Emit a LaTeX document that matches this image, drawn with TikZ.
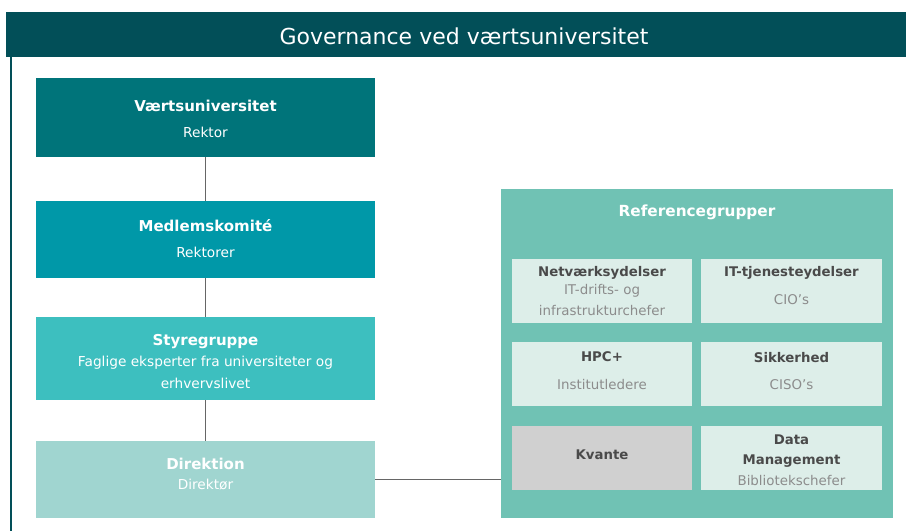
\documentclass[tikz,border=0pt]{standalone}
\usepackage{fontspec}
\setmainfont{DejaVu Sans}
\definecolor{bar}{HTML}{024F58}
\definecolor{cA}{HTML}{00747A}
\definecolor{cB}{HTML}{0098A8}
\definecolor{cC}{HTML}{3DBFBF}
\definecolor{cD}{HTML}{A0D5D0}
\definecolor{panel}{HTML}{70C2B4}
\definecolor{inner}{HTML}{DDEEE9}
\definecolor{kv}{HTML}{D0D0D0}
\definecolor{dtxt}{HTML}{4A4A4A}
\definecolor{ltxt}{HTML}{8C8C8C}
\definecolor{conn}{HTML}{666666}
\tikzset{
  box/.style={draw=none,inner sep=0pt,anchor=north west},
  hd/.style={font=\fontsize{15}{18}\selectfont\bfseries,text=white,inner sep=0pt},
  sb/.style={font=\fontsize{13.7}{16}\selectfont,text=white,inner sep=0pt},
  ihd/.style={font=\fontsize{13.3}{16}\selectfont\bfseries,text=dtxt,inner sep=0pt},
  isb/.style={font=\fontsize{13.4}{16}\selectfont,text=ltxt,inner sep=0pt},
  link/.style={draw=conn,line width=1.4pt}
}
\begin{document}
\begin{tikzpicture}[x=1pt,y=-1pt]
\useasboundingbox (0,0) rectangle (906,531);
\fill[white] (0,0) rectangle (906,531);
% title bar
\node[box,fill=bar,minimum width=900pt,minimum height=45pt] (bar) at (6,12) {};
\node[font=\fontsize{22}{26}\selectfont,text=white,inner sep=0pt] (title) at (464,36) {Governance ved værtsuniversitet};
\draw[draw=bar,line width=1.8pt] (bar.south west) ++(5,0) coordinate (lt) -- (11,531) coordinate (lb);
% left column boxes
\node[box,fill=cA,minimum width=339pt,minimum height=79pt] (b1) at (36,78) {};
\node[box,fill=cB,minimum width=339pt,minimum height=77pt] (b2) at (36,201) {};
\node[box,fill=cC,minimum width=339pt,minimum height=83pt] (b3) at (36,317) {};
\node[box,fill=cD,minimum width=339pt,minimum height=77pt] (b4) at (36,441) {};
\draw[link] (b1.south) -- (b2.north);
\draw[link] (b2.south) -- (b3.north);
\draw[link] (b3.south) -- (b4.north);
\node[hd] (t1) at (205.5,106) {Værtsuniversitet};
\node[sb] (s1) at (205.5,132) {Rektor};
\node[hd] (t2) at (205.5,226) {Medlemskomité};
\node[sb] (s2) at (205.5,252) {Rektorer};
\node[hd] (t3) at (205.5,342) {Styregruppe};
\node[sb] (s3a) at (205.5,363) {Faglige eksperter fra universiteter og};
\node[sb] (s3b) at (205.5,383) {erhvervslivet};
\node[hd] (t4) at (205.5,464) {Direktion};
\node[sb] (s4) at (205.5,485) {Direktør};
% right panel
\node[box,fill=panel,minimum width=392pt,minimum height=329pt] (p) at (501,189) {};
\draw[link] (b4.east) -- (b4.east -| p.west);
\node[hd,font=\fontsize{15.3}{18}\selectfont\bfseries] (pt) at (697,212) {Referencegrupper};
\node[box,fill=inner,minimum width=180pt,minimum height=64pt] (r1) at (512,259) {};
\node[box,fill=inner,minimum width=181pt,minimum height=64pt] (r2) at (701,259) {};
\node[box,fill=inner,minimum width=180pt,minimum height=64pt] (r3) at (512,342) {};
\node[box,fill=inner,minimum width=181pt,minimum height=64pt] (r4) at (701,342) {};
\node[box,fill=kv,minimum width=180pt,minimum height=64pt] (r5) at (512,426) {};
\node[box,fill=inner,minimum width=181pt,minimum height=64pt] (r6) at (701,426) {};
\node[ihd] (q1) at (602,273) {Netværksydelser};
\node[isb] (q1a) at (602,291) {IT-drifts- og};
\node[isb] (q1b) at (602,310) {infrastrukturchefer};
\node[ihd] (q2) at (791.5,273) {IT-tjenesteydelser};
\node[isb] (q2a) at (791.5,300) {CIO's};
\node[ihd] (q3) at (602,357) {HPC+};
\node[isb] (q3a) at (602,384) {Institutledere};
\node[ihd] (q4) at (791.5,358) {Sikkerhed};
\node[isb] (q4a) at (791.5,385) {CISO's};
\node[ihd] (q5) at (602,455) {Kvante};
\node[ihd] (q6) at (791.5,440) {Data};
\node[ihd] (q6b) at (791.5,461) {Management};
\node[isb] (q6c) at (791.5,480) {Bibliotekschefer};
\end{tikzpicture}
\end{document}
